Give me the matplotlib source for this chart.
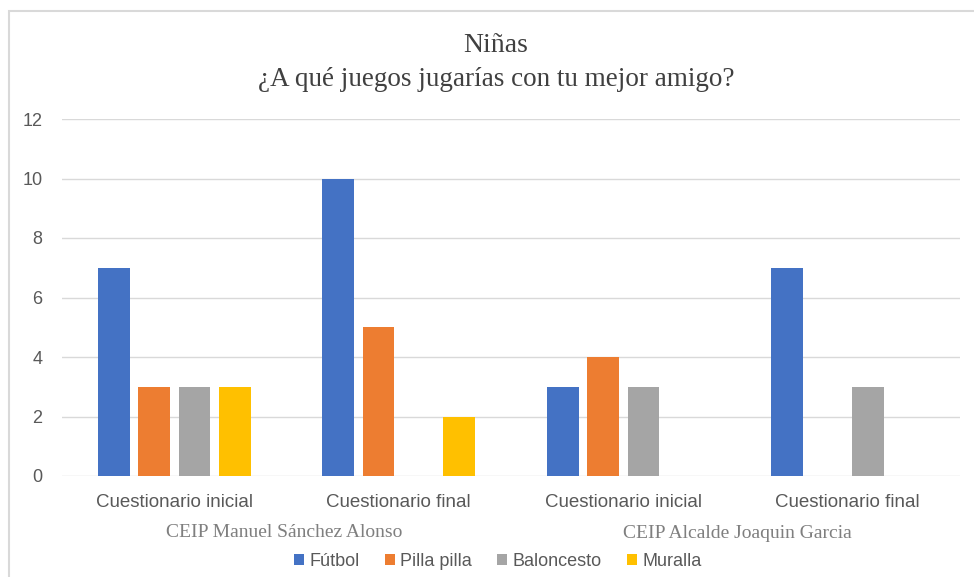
import numpy as np
import matplotlib.pyplot as plt
from matplotlib.patches import Rectangle

categories = ["Cuestionario inicial", "Cuestionario final",
              "Cuestionario inicial", "Cuestionario final"]
schools = ["CEIP Manuel Sánchez Alonso", "CEIP Alcalde Joaquin Garcia"]
series = ["Fútbol", "Pilla pilla", "Baloncesto", "Muralla"]
futbol = [7, 10, 3, 7]
pilla = [3, 5, 4, 0]
baloncesto = [3, 0, 3, 3]
muralla = [3, 2, 0, 0]
colors = ["#4472C4", "#ED7D31", "#A5A5A5", "#FFC000"]

sans = ["Liberation Sans Narrow", "Liberation Sans", "DejaVu Sans"]
serif = ["Liberation Serif", "DejaVu Serif"]

fig = plt.figure(figsize=(9.74, 5.77), dpi=100)
# chart frame
fig.patches.append(Rectangle((9 / 974, -0.1), 1.1, (577 - 11) / 577 + 0.1,
                             transform=fig.transFigure, fill=False,
                             edgecolor="#D9D9D9", linewidth=1.5))

ax = fig.add_axes([62 / 974, 101 / 577, (960 - 62) / 974, (476 - 119) / 577])

x = np.arange(len(categories))
pitch = 0.18
width = 0.142
values = [futbol, pilla, baloncesto, muralla]
for i, (name, vals) in enumerate(zip(series, values)):
    ax.bar(x + (i - 1.5) * pitch, vals, width, color=colors[i], label=name, zorder=3)

ax.set_xlim(-0.5, len(categories) - 0.5)
ax.set_ylim(0, 12)
ax.set_yticks(range(0, 13, 2))
ax.grid(axis="y", color="#D9D9D9", linewidth=1, zorder=0)
for s in ax.spines.values():
    s.set_visible(False)
ax.tick_params(length=0)
ax.tick_params(axis="y", pad=14)
ax.tick_params(axis="x", pad=13)
ax.set_xticks(x)
ax.set_xticklabels(categories, fontsize=13.5, color="#595959", family=sans)
for t in ax.get_yticklabels():
    t.set_fontsize(13)
    t.set_color("#595959")
    t.set_family(sans)

# school labels
ax.text(0.49, -0.157, schools[0], transform=ax.get_xaxis_transform(),
        ha="center", va="center", fontsize=14, color="#7F7F7F", family=serif)
ax.text(2.51, -0.16, schools[1], transform=ax.get_xaxis_transform(),
        ha="center", va="center", fontsize=14, color="#7F7F7F", family=serif)

fig.text(496 / 974, 1 - 45 / 577, "Niñas", ha="center", va="center",
         fontsize=20, color="#404040", family=serif)
fig.text(496 / 974, 1 - 79 / 577, "¿A qué juegos jugarías con tu mejor amigo?",
         ha="center", va="center", fontsize=19.5, color="#404040", family=serif)

leg = fig.legend(loc="center", bbox_to_anchor=(498 / 974, 1 - 561 / 577), ncol=4,
                 frameon=False, handlelength=0.55, handleheight=0.55,
                 handletextpad=0.3, columnspacing=1.4,
                 prop={"family": sans, "size": 13})
for t in leg.get_texts():
    t.set_color("#595959")

fig.savefig("out.png", dpi=100)
